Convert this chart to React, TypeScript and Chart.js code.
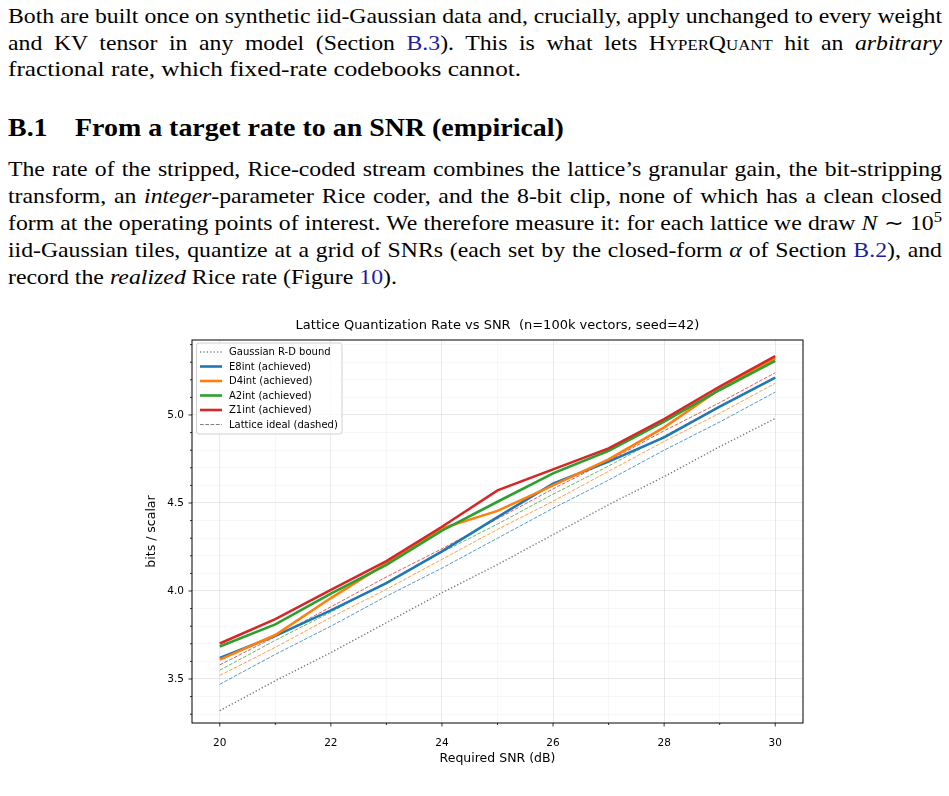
import React, { useEffect, useRef } from 'react';
import { Chart, registerables } from 'chart.js';
Chart.register(...registerables);

// ---------- data ----------
const snrDb = [20, 21, 22, 23, 24, 25, 26, 27, 28, 29, 30];
const gaussianRD = [3.32, 3.49, 3.65, 3.82, 3.99, 4.15, 4.32, 4.49, 4.65, 4.82, 4.98];
const e8Achieved = [3.62, 3.745, 3.89, 4.045, 4.225, 4.42, 4.61, 4.735, 4.873, 5.047, 5.212];
const d4Achieved = [3.61, 3.75, 3.96, 4.157, 4.356, 4.455, 4.6, 4.748, 4.93, 5.146, 5.322];
const a2Achieved = [3.685, 3.81, 3.985, 4.148, 4.343, 4.507, 4.668, 4.797, 4.962, 5.142, 5.307];
const z1Achieved = [3.702, 3.84, 4.006, 4.17, 4.365, 4.572, 4.691, 4.81, 4.977, 5.161, 5.335];
const e8Ideal = [3.47, 3.64, 3.8, 3.97, 4.13, 4.3, 4.47, 4.63, 4.8, 4.96, 5.13];
const d4Ideal = [3.52, 3.68, 3.85, 4.01, 4.18, 4.35, 4.51, 4.68, 4.85, 5.01, 5.18];
const a2Ideal = [3.55, 3.72, 3.88, 4.05, 4.22, 4.38, 4.55, 4.71, 4.88, 5.05, 5.21];
const z1Ideal = [3.58, 3.74, 3.91, 4.08, 4.24, 4.41, 4.58, 4.74, 4.91, 5.07, 5.24];

const xMajorTicks = [20, 22, 24, 26, 28, 30];
const xMinorTicks = [21, 23, 25, 27, 29];
const yMajorTicks = [3.5, 4.0, 4.5, 5.0];
const yMinorTicks = [3.3, 3.4, 3.6, 3.7, 3.8, 3.9, 4.1, 4.2, 4.3, 4.4, 4.6, 4.7, 4.8, 4.9, 5.1, 5.2, 5.3, 5.4];

const chartTitle = 'Lattice Quantization Rate vs SNR  (n=100k vectors, seed=42)';
const xAxisTitle = 'Required SNR (dB)';
const yAxisTitle = 'bits / scalar';
const legendLabels = [
  'Gaussian R-D bound',
  'E8int (achieved)',
  'D4int (achieved)',
  'A2int (achieved)',
  'Z1int (achieved)',
  'Lattice ideal (dashed)',
];

// ---------- styles ----------
const C_BLUE = '#1f77b4';
const C_ORANGE = '#ff7f0e';
const C_GREEN = '#2ca02c';
const C_RED = '#d62728';
const C_GRAY = '#808080';
const FONT = '"DejaVu Sans", sans-serif';
const DOT = [1.3, 2.1];
const DASH = [3.7, 1.6];
const ACH_W = 2.6;

const legendStyles = [
  { color: C_GRAY, width: 1.3, dash: DOT },
  { color: C_BLUE, width: ACH_W, dash: [] as number[] },
  { color: C_ORANGE, width: ACH_W, dash: [] as number[] },
  { color: C_GREEN, width: ACH_W, dash: [] as number[] },
  { color: C_RED, width: ACH_W, dash: [] as number[] },
  { color: C_GRAY, width: 1, dash: DASH },
];

const rgba = (hex: string, a: number) => {
  const n = parseInt(hex.slice(1), 16);
  return `rgba(${(n >> 16) & 255},${(n >> 8) & 255},${n & 255},${a})`;
};

const pts = (ys: number[]) => snrDb.map((x, i) => ({ x, y: ys[i] }));

const isXMajor = (v: number) => xMajorTicks.some((t) => Math.abs(t - v) < 1e-6);
const isYMajor = (v: number) => yMajorTicks.some((t) => Math.abs(t - v) < 1e-6);

const framePlugin = {
  id: 'frameAndLegend',
  afterDraw(chart: any) {
    const { ctx, chartArea } = chart;
    const { left, top, right, bottom } = chartArea;
    const xs = chart.scales.x;
    const ys = chart.scales.y;
    ctx.save();
    // title centred over the plot area
    ctx.fillStyle = '#000';
    ctx.font = `13px ${FONT}`;
    ctx.textAlign = 'center';
    ctx.textBaseline = 'middle';
    ctx.fillText(chartTitle, (left + right) / 2, 20);

    // tick marks
    ctx.strokeStyle = '#000';
    ctx.lineWidth = 0.8;
    xs.ticks.forEach((t: any) => {
      const px = xs.getPixelForValue(t.value);
      const len = isXMajor(t.value) ? 3.5 : 2;
      ctx.beginPath();
      ctx.moveTo(px, bottom);
      ctx.lineTo(px, bottom + len);
      ctx.stroke();
    });
    ys.ticks.forEach((t: any) => {
      const py = ys.getPixelForValue(t.value);
      const len = isYMajor(t.value) ? 3.5 : 2;
      ctx.beginPath();
      ctx.moveTo(left, py);
      ctx.lineTo(left - len, py);
      ctx.stroke();
    });
    // frame
    ctx.lineWidth = 1;
    ctx.strokeRect(left, top, right - left, bottom - top);

    // legend
    const bx = left + 4.5;
    const by = top + 3;
    const bw = 145.5;
    const bh = 91;
    ctx.beginPath();
    ctx.roundRect(bx, by, bw, bh, 2.5);
    ctx.fillStyle = 'rgba(255,255,255,0.8)';
    ctx.fill();
    ctx.strokeStyle = '#d0d0d0';
    ctx.lineWidth = 1;
    ctx.stroke();
    ctx.font = `10px ${FONT}`;
    ctx.textBaseline = 'middle';
    ctx.textAlign = 'left';
    legendLabels.forEach((lab, i) => {
      const yy = by + 9 + i * 14.5;
      const st = legendStyles[i];
      ctx.beginPath();
      ctx.setLineDash(st.dash);
      ctx.strokeStyle = st.color;
      ctx.lineWidth = st.width;
      ctx.moveTo(bx + 3.5, yy);
      ctx.lineTo(bx + 25.5, yy);
      ctx.stroke();
      ctx.setLineDash([]);
      ctx.fillStyle = '#000';
      ctx.fillText(lab, bx + 32.5, yy + 0.5);
    });
    ctx.restore();
  },
};

const SX = 1.12;

export default function App() {
  const ref = useRef<HTMLCanvasElement>(null);

  useEffect(() => {
    const mkLine = (label: string, ys: number[], color: string, width: number, dash: number[], order: number) => ({
      label,
      data: pts(ys),
      borderColor: color,
      backgroundColor: color,
      borderWidth: width,
      borderDash: dash,
      pointRadius: 0,
      pointHoverRadius: 0,
      tension: 0,
      fill: false,
      order,
    });
    const datasets = [
      mkLine('Gaussian R-D bound', gaussianRD, '#777777', 1.4, DOT, 0),
      mkLine('E8int ideal', e8Ideal, rgba(C_BLUE, 0.75), 1, DASH, -1),
      mkLine('D4int ideal', d4Ideal, rgba(C_ORANGE, 0.75), 1, DASH, -2),
      mkLine('A2int ideal', a2Ideal, rgba(C_GREEN, 0.75), 1, DASH, -3),
      mkLine('Z1int ideal', z1Ideal, rgba(C_RED, 0.75), 1, DASH, -4),
      mkLine('E8int (achieved)', e8Achieved, C_BLUE, ACH_W, [], -5),
      mkLine('D4int (achieved)', d4Achieved, C_ORANGE, ACH_W, [], -6),
      mkLine('A2int (achieved)', a2Achieved, C_GREEN, ACH_W, [], -7),
      mkLine('Z1int (achieved)', z1Achieved, C_RED, ACH_W, [], -8),
    ];
    const gridColor = (major: boolean) => (major ? 'rgba(0,0,0,0.11)' : 'rgba(0,0,0,0.045)');
    const chart = new Chart(ref.current as HTMLCanvasElement, {
      type: 'line',
      data: { datasets: datasets as any },
      options: {
        responsive: false,
        animation: false,
        devicePixelRatio: 1,
        layout: { padding: { left: 0, right: 17, top: 34, bottom: 0 } },
        plugins: {
          legend: { display: false },
          tooltip: { enabled: false },
          title: { display: false },
        },
        scales: {
          x: {
            type: 'linear',
            min: 19.5,
            max: 30.5,
            afterBuildTicks: (s: any) => {
              s.ticks = [...xMajorTicks, ...xMinorTicks].sort((a, b) => a - b).map((v) => ({ value: v }));
            },
            afterFit: (s: any) => {
              s.height = 57;
            },
            border: { display: false },
            grid: {
              drawTicks: false,
              lineWidth: 0.8,
              color: (c: any) => gridColor(c.tick ? isXMajor(c.tick.value) : true),
            },
            ticks: {
              autoSkip: false,
              maxRotation: 0,
              padding: 14,
              color: '#000',
              font: { family: FONT, size: 10.5 },
              callback: (v: any) => (isXMajor(Number(v)) ? String(v) : ''),
            },
            title: {
              display: true,
              text: xAxisTitle,
              color: '#000',
              font: { family: FONT, size: 12.5 },
              padding: { top: 0, bottom: 13.5 },
            },
          },
          y: {
            type: 'linear',
            min: 3.25,
            max: 5.426,
            afterBuildTicks: (s: any) => {
              s.ticks = [...yMajorTicks, ...yMinorTicks].sort((a, b) => a - b).map((v) => ({ value: v }));
            },
            afterFit: (s: any) => {
              s.width = 52;
            },
            border: { display: false },
            grid: {
              drawTicks: false,
              lineWidth: 0.8,
              color: (c: any) => gridColor(c.tick ? isYMajor(c.tick.value) : true),
            },
            ticks: {
              autoSkip: false,
              padding: 8,
              color: '#000',
              font: { family: FONT, size: 10.5 },
              callback: (v: any) => (isYMajor(Number(v)) ? Number(v).toFixed(1) : ''),
            },
            title: {
              display: true,
              text: yAxisTitle,
              color: '#000',
              font: { family: FONT, size: 12.5 },
              padding: { top: 4.5, bottom: 0 },
            },
          },
        },
      },
      plugins: [framePlugin],
    } as any);
    return () => chart.destroy();
  }, []);

  const link = { color: 'rgb(30,30,160)' };
  const lineStyle = (top: number, justify: boolean, sx: number = SX): React.CSSProperties =>
    ({
      position: 'absolute',
      left: 8,
      width: 934 / sx,
      top,
      height: 26,
      lineHeight: '26px',
      whiteSpace: 'nowrap',
      wordSpacing: justify ? '-1px' : '0px',
      textAlign: justify ? 'justify' : 'left',
      textAlignLast: justify ? 'justify' : 'left',
      transform: `scaleX(${sx})`,
      transformOrigin: 'left top',
    } as React.CSSProperties);

  return (
    <div
      style={{
        position: 'relative',
        width: 949,
        height: 796,
        overflow: 'hidden',
        background: '#fff',
        fontFamily: '"Liberation Serif", serif',
        fontSize: 21.2,
        color: '#000',
      }}
    >
      <style>{'body{margin:0;background:#fff}'}</style>
      <div style={lineStyle(3, true)}>
        Both are built once on synthetic iid-Gaussian data and, crucially, apply unchanged to every weight
      </div>
      <div style={lineStyle(30, true)}>
        and KV tensor in any model (Section <span style={link}>B.3</span>). This is what lets{' '}
        <span style={{ fontVariant: 'small-caps' }}>HyperQuant</span> hit an <i>arbitrary</i>
      </div>
      <div style={lineStyle(56, false, 1.19)}>fractional rate, which fixed-rate codebooks cannot.</div>

      <div
        style={{
          position: 'absolute',
          left: 8,
          top: 113,
          height: 30,
          lineHeight: '30px',
          fontWeight: 'bold',
          fontSize: 24.5,
          whiteSpace: 'nowrap',
          transform: 'scaleX(1.14)',
          transformOrigin: 'left top',
        }}
      >
        <span style={{ display: 'inline-block', width: 67 / 1.14 }}>B.1</span>From a target rate to an SNR (empirical)
      </div>

      <div style={lineStyle(156, true)}>
        The rate of the stripped, Rice-coded stream combines the lattice’s granular gain, the bit-stripping
      </div>
      <div style={lineStyle(183, true)}>
        transform, an <i>integer</i>-parameter Rice coder, and the 8-bit clip, none of which has a clean closed
      </div>
      <div style={lineStyle(210, true)}>
        form at the operating points of interest. We therefore measure it: for each lattice we draw <i>N</i> ∼ 10
        <sup style={{ fontSize: '0.7em', verticalAlign: '0.55em', lineHeight: 0 }}>5</sup>
      </div>
      <div style={lineStyle(237, true)}>
        iid-Gaussian tiles, quantize at a grid of SNRs (each set by the closed-form <i>α</i> of Section{' '}
        <span style={link}>B.2</span>), and
      </div>
      <div style={lineStyle(264, false, 1.125)}>
        record the <i>realized</i> Rice rate (Figure <span style={link}>10</span>).
      </div>

      <div style={{ position: 'absolute', left: 140, top: 306, width: 680, height: 474 }}>
        <canvas ref={ref} width={680} height={474} style={{ display: 'block', width: 680, height: 474 }} />
      </div>
    </div>
  );
}
